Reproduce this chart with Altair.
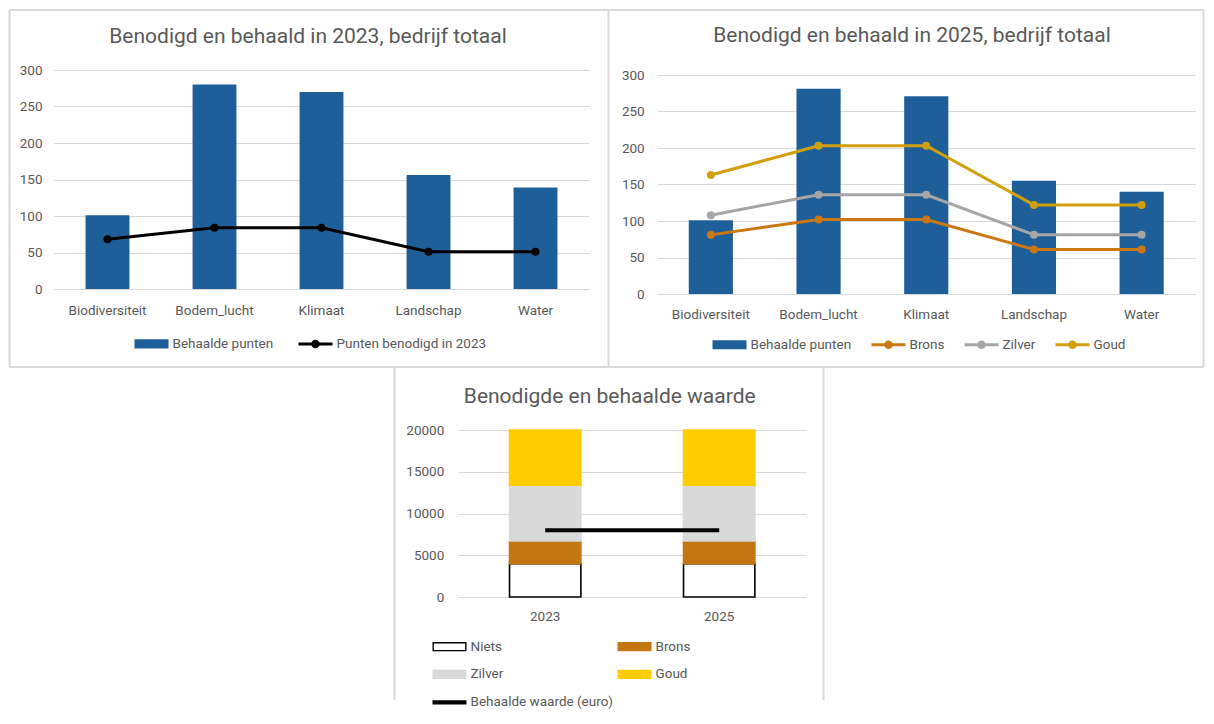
import altair as alt
import pandas as pd

# ---------------- data ----------------
categories = ["Biodiversiteit", "Bodem_lucht", "Klimaat", "Landschap", "Water"]
behaald_2023 = [101, 280, 270, 156, 139]
benodigd_2023 = [68, 84, 84, 51, 51]

behaald_2025 = [101, 281, 271, 155, 140]
brons_2025 = [81, 102, 102, 61, 61]
zilver_2025 = [108, 136, 136, 81, 81]
goud_2025 = [163, 203, 203, 122, 122]

years = ["2023", "2025"]
niets_w = [4000, 4000]
brons_w = [2700, 2700]
zilver_w = [6700, 6700]
goud_w = [6600, 6600]
behaald_waarde = [8000, 8000]

y_ticks_pts = [0, 50, 100, 150, 200, 250, 300]
y_ticks_eur = [0, 5000, 10000, 15000, 20000]

# ---------------- style ----------------
FONT = "Roboto"
GREY = "#595959"
GRID = "#D9D9D9"
FRAME = "#DADADA"
FW = 2
BLUE = "#1F5F99"
BRONS_L = "#CB7813"
ZILVER_L = "#A6A6A6"
GOUD_L = "#D2A00C"
BRONS_B = "#C47612"
ZILVER_B = "#D9D9D9"
GOUD_B = "#FFCC00"

RECT = "M-1,-0.27H1V0.27H-1Z"
CIRC = ("M0.25,0C0.25,0.138,0.138,0.25,0,0.25C-0.138,0.25,-0.25,0.138,-0.25,0"
        "C-0.25,-0.138,-0.138,-0.25,0,-0.25C0.138,-0.25,0.25,-0.138,0.25,0Z")
LINEDOT = "M-1,-0.09H1V0.09H-1Z" + CIRC
RING = "M-1,-0.27H1V0.27H-1ZM-0.92,-0.19V0.19H0.92V-0.19Z"
THICK = "M-1,-0.12H1V0.12H-1Z"

one = pd.DataFrame({"k": [0]})


def vrule(x, y1, y2):
    return alt.Chart(one).mark_rule(color=FRAME, strokeWidth=FW).encode(
        x=alt.value(x), y=alt.value(y1), y2=alt.value(y2))


def hrule(x1, x2, y):
    return alt.Chart(one).mark_rule(color=FRAME, strokeWidth=FW).encode(
        x=alt.value(x1), x2=alt.value(x2), y=alt.value(y))


def title_text(txt, x, y):
    return alt.Chart(one).mark_text(text=txt, font=FONT, fontSize=21, color=GREY,
                                    align="center", baseline="alphabetic").encode(
        x=alt.value(x), y=alt.value(y))


def make_legend(x, y, colpad, columns=None, rowpad=None):
    kw = dict(title=None, orient="none", legendX=x, legendY=y, direction="horizontal",
              symbolSize=1156, symbolStrokeWidth=0, symbolOpacity=1, labelOffset=4,
              labelFont=FONT, labelFontSize=13.5, labelColor=GREY, columnPadding=colpad)
    if columns is not None:
        kw["columns"] = columns
    if rowpad is not None:
        kw["rowPadding"] = rowpad
    return alt.Legend(**kw)


def legend_layer(domain, colors, shapes, leg):
    df = pd.DataFrame({"series": domain})
    return alt.Chart(df).mark_point(filled=True, opacity=0).encode(
        color=alt.Color("series:N", scale=alt.Scale(domain=domain, range=colors), legend=leg),
        shape=alt.Shape("series:N", scale=alt.Scale(domain=domain, range=shapes), legend=leg),
    )


def x_axis(pad):
    return alt.Axis(title=None, labelAngle=0, domain=False, ticks=False, labelPadding=pad)


def y_axis(values, pad):
    return alt.Axis(title=None, values=values, domain=False, ticks=False, labelPadding=pad,
                    grid=True, gridColor=GRID, gridWidth=1.2, format="d")


def band():
    return alt.Scale(paddingInner=0.59, paddingOuter=0.295)


# ---------------- panel 1 ----------------
df1 = pd.DataFrame({"cat": categories, "behaald": behaald_2023, "benodigd": benodigd_2023})
X1 = alt.X("cat:N", sort=categories, scale=band(), axis=x_axis(14))
YS1 = alt.Scale(domain=[0, 300])
YA1 = y_axis(y_ticks_pts, 12)
bars1 = alt.Chart(df1).mark_bar(color=BLUE).encode(
    x=X1, y=alt.Y("behaald:Q", scale=YS1, axis=YA1))
line1 = alt.Chart(df1).mark_line(color="black", strokeWidth=3).encode(
    x=X1, y=alt.Y("benodigd:Q", scale=YS1, axis=YA1))
pts1 = alt.Chart(df1).mark_circle(color="black", size=64, opacity=1).encode(
    x=X1, y=alt.Y("benodigd:Q", scale=YS1, axis=YA1))
leg1_dom = ["Behaalde punten", "Punten benodigd in 2023"]
leg1 = legend_layer(leg1_dom, [BLUE, "black"], [RECT, LINEDOT], make_legend(80.5, 256.7, 25))

p1 = alt.layer(
    vrule(-44.5, -60, 297),
    vrule(554.5, -60, 297),
    hrule(-44.5, 554.5, -60),
    hrule(-44.5, 554.5, 297),
    title_text("Benodigd en behaald in 2023, bedrijf totaal", 254, -27),
    bars1, line1, pts1, leg1,
).properties(width=535, height=219)

# ---------------- panel 2 ----------------
# plot area stretched 5px upward (domain above 300) so 300 sits 5px lower, as in the reference
P2_TOP = 300 * 224 / 219
df2 = pd.DataFrame({"cat": categories, "behaald": behaald_2025})
lvl_names = ["Brons", "Zilver", "Goud"]
lvl_colors = [BRONS_L, ZILVER_L, GOUD_L]
rows = []
for name, vals in zip(lvl_names, [brons_2025, zilver_2025, goud_2025]):
    for c, v in zip(categories, vals):
        rows.append({"cat": c, "series": name, "value": v})
df2l = pd.DataFrame(rows)

X2 = alt.X("cat:N", sort=categories, scale=band(), axis=x_axis(13.7))
YS2 = alt.Scale(domain=[0, P2_TOP], nice=False)
YA2 = y_axis(y_ticks_pts, 12.8)
bars2 = alt.Chart(df2).mark_bar(color=BLUE).encode(
    x=X2, y=alt.Y("behaald:Q", scale=YS2, axis=YA2))
line2 = alt.Chart(df2l).mark_line(strokeWidth=3).encode(
    x=X2, y=alt.Y("value:Q", scale=YS2, axis=YA2),
    stroke=alt.Stroke("series:N", scale=alt.Scale(domain=lvl_names, range=lvl_colors), legend=None))
pts2 = alt.Chart(df2l).mark_circle(size=64, opacity=1).encode(
    x=X2, y=alt.Y("value:Q", scale=YS2, axis=YA2),
    fill=alt.Fill("series:N", scale=alt.Scale(domain=lvl_names, range=lvl_colors), legend=None))
leg2_dom = ["Behaalde punten"] + lvl_names
leg2 = legend_layer(leg2_dom, [BLUE] + lvl_colors, [RECT, LINEDOT, LINEDOT, LINEDOT],
                    make_legend(55.5, 257.5, 20))

p2 = alt.layer(
    hrule(-48.5, 546.5, -60),
    hrule(-48.5, 546.5, 297),
    vrule(546.5, -60, 297),
    title_text("Benodigd en behaald in 2025, bedrijf totaal", 255, -28),
    bars2, line2, pts2, leg2,
).properties(width=538.5, height=224)

# ---------------- panel 3 ----------------
seg_names = ["Niets", "Brons", "Zilver", "Goud"]
seg_fill = ["white", BRONS_B, ZILVER_B, GOUD_B]
seg_stroke = ["black", BRONS_B, ZILVER_B, GOUD_B]
rows = []
for i, (name, vals) in enumerate(zip(seg_names, [niets_w, brons_w, zilver_w, goud_w])):
    for yr, v in zip(years, vals):
        rows.append({"year": yr, "cat": name, "value": v, "ord": i})
df3 = pd.DataFrame(rows)
df3w = pd.DataFrame({"year": years, "waarde": behaald_waarde})

X3 = alt.X("year:N", sort=years, scale=band(), axis=x_axis(12.8))
YS3 = alt.Scale(domain=[0, 20000])
YA3 = y_axis(y_ticks_eur, 14.4)
bars3 = alt.Chart(df3).mark_bar(strokeWidth=1.6).encode(
    x=X3,
    y=alt.Y("value:Q", stack="zero", scale=YS3, axis=YA3),
    fill=alt.Fill("cat:N", scale=alt.Scale(domain=seg_names, range=seg_fill), legend=None),
    stroke=alt.Stroke("cat:N", scale=alt.Scale(domain=seg_names, range=seg_stroke), legend=None),
    order=alt.Order("ord:Q"),
)
line3 = alt.Chart(df3w).mark_line(color="black", strokeWidth=4).encode(
    x=X3, y=alt.Y("waarde:Q", scale=YS3, axis=YA3))
leg3_dom = seg_names + ["Behaalde waarde (euro)"]
leg3 = legend_layer(leg3_dom, ["black", BRONS_B, ZILVER_B, GOUD_B, "black"],
                    [RING, RECT, RECT, RECT, THICK],
                    make_legend(-25.7, 199.4, 4, columns=2, rowpad=4))

p3 = alt.layer(
    vrule(-63.7, -63, 270),
    vrule(365.3, -63, 270),
    title_text("Benodigde en behaalde waarde", 151.5, -27.3),
    bars3, line3, leg3,
).properties(width=348, height=167)

spacer = alt.Chart(one).mark_rule(opacity=0).encode(
    x=alt.value(0), x2=alt.value(1), y=alt.value(0)).properties(width=20, height=1)

# ---------------- layout ----------------
res = dict(x="independent", y="independent", color="independent", shape="independent",
           fill="independent", stroke="independent")
leg_res = dict(color="independent", shape="independent")

row1 = alt.hconcat(p1, p2, spacing=68, bounds="flush").resolve_scale(**res).resolve_legend(**leg_res)
row2 = alt.hconcat(spacer, p3, spacing=384.2, bounds="flush").resolve_scale(**res).resolve_legend(**leg_res)

chart = alt.vconcat(row1, row2, spacing=-4).resolve_scale(**res).resolve_legend(
    **leg_res
).properties(
    padding={"left": 0, "top": 0, "right": 0, "bottom": 0}
).configure_view(
    stroke="transparent"
).configure_axis(
    labelFont=FONT, labelFontSize=13.5, labelColor=GREY
).configure_legend(
    rowPadding=4
)

chart.save("out.html", embed_options={"renderer": "svg", "actions": False})
